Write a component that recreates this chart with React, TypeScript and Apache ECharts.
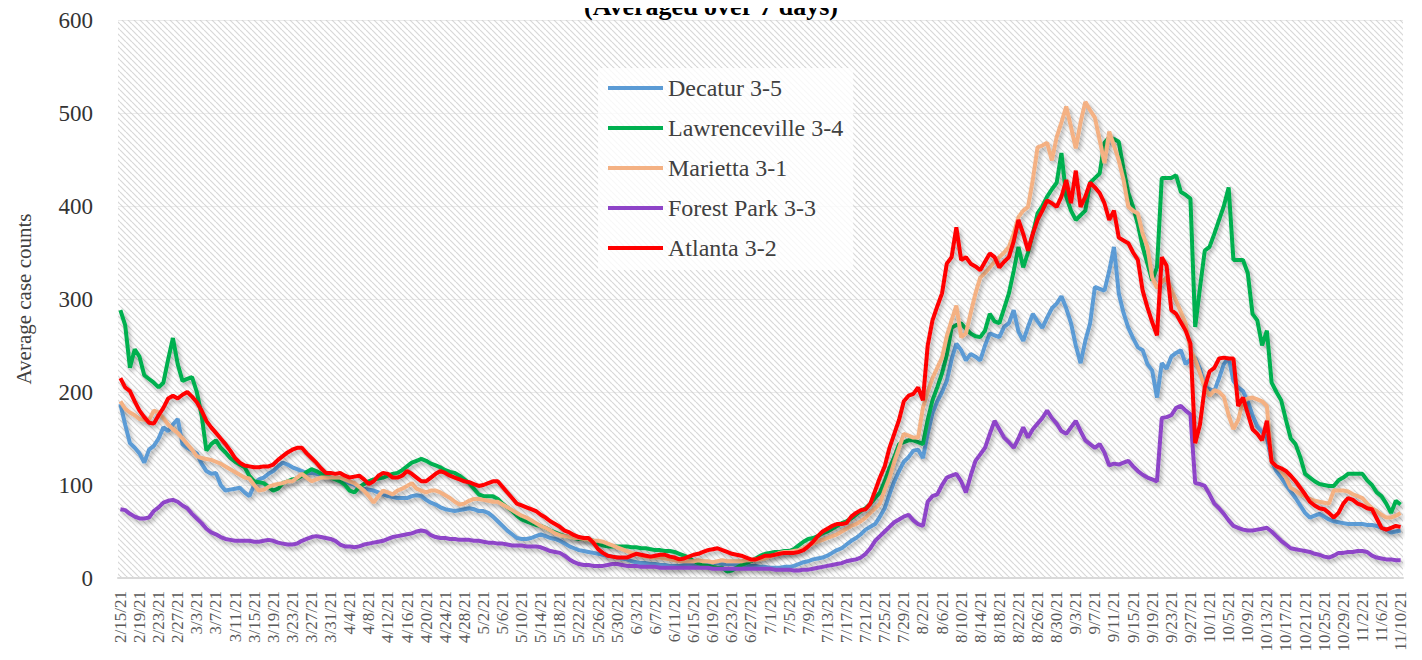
import React, { useEffect, useRef } from "react";
import * as echarts from "echarts";

// Categories: daily dates 2/15/21 .. 11/10/21
const dates: string[] = [];
for (let i = 0; i < 269; i++) {
  const d = new Date(2021, 1, 15 + i);
  dates.push(`${d.getMonth() + 1}/${d.getDate()}/21`);
}

const seriesNames = ["Decatur 3-5", "Lawrenceville 3-4", "Marietta 3-1", "Forest Park 3-3", "Atlanta 3-2"];
const seriesColors = ["#5B9BD5", "#00B050", "#F4B183", "#8E44C8", "#FF0000"];

const decatur = [
  187, 165, 145, 140, 134, 124, 138, 142, 150, 162,
  158, 165, 171, 144, 140, 137, 134, 123, 115, 112,
  113, 100, 94, 95, 96, 97, 92, 88, 100, 106,
  108, 112, 115, 120, 124, 122, 119, 117, 115, 113,
  113, 112, 111, 109, 108, 107, 105, 104, 102, 100,
  97, 96, 95, 94, 92, 90, 88, 87, 86, 86,
  86, 88, 89, 88, 84, 81, 79, 76, 74, 73,
  72, 73, 74, 75, 74, 72, 72, 70, 66, 61,
  56, 51, 47, 43, 42, 42, 43, 45, 47, 45,
  43, 42, 40, 37, 34, 32, 30, 29, 28, 27,
  26, 25, 24, 23, 22, 21, 20, 18, 17, 16,
  16, 15, 15, 14, 14, 13, 13, 13, 14, 15,
  15, 15, 16, 16, 16, 16, 15, 15, 15, 14,
  14, 14, 13, 13, 12, 12, 11, 11, 11, 12,
  12, 13, 15, 17, 18, 20, 21, 22, 24, 27,
  30, 32, 36, 40, 43, 47, 52, 55, 58, 66,
  75, 90, 104, 115, 125, 130, 137, 138, 129, 155,
  177, 190, 200, 212, 235, 252, 245, 234, 241, 238,
  234, 250, 263, 261, 259, 270, 274, 288, 265, 255,
  270, 284, 276, 269, 280, 290, 295, 303, 290, 274,
  250, 231, 255, 274, 313, 311, 309, 330, 356, 306,
  285, 269, 258, 248, 245, 230, 223, 194, 231, 225,
  238, 242, 245, 230, 235, 237, 225, 205, 203, 201,
  215, 230, 237, 212, 205, 201, 190, 175, 163, 157,
  151, 126, 115, 108, 100, 93, 86, 78, 70, 65,
  67, 69, 66, 63, 61, 60, 59, 58, 58, 58,
  58, 57, 57, 56, 54, 52, 49, 50, 51,
];

const lawrenceville = [
  288, 272, 226, 246, 238, 218, 214, 210, 205, 210,
  235, 258, 230, 212, 214, 216, 200, 175, 137, 144,
  148, 140, 135, 129, 125, 122, 119, 110, 104, 103,
  102, 98, 94, 96, 102, 104, 106, 107, 110, 114,
  117, 115, 112, 110, 108, 106, 104, 100, 94, 92,
  98, 101, 104, 106, 107, 108, 110, 112, 113, 116,
  120, 124, 126, 128, 126, 123, 121, 119, 116, 114,
  113, 110, 106, 102, 96, 90, 88, 88, 88, 85,
  80, 76, 72, 67, 63, 61, 59, 57, 56, 54,
  51, 49, 47, 45, 44, 43, 42, 42, 41, 40,
  37, 35, 34, 34, 34, 34, 34, 33, 33, 32,
  32, 31, 30, 30, 29, 29, 28, 26, 24, 22,
  18, 16, 14, 13, 12, 11, 11, 7, 8, 11,
  14, 16, 18, 21, 24, 26, 27, 28, 28, 29,
  29, 31, 35, 39, 42, 43, 45, 48, 50, 53,
  56, 59, 61, 64, 68, 72, 75, 80, 86, 92,
  104, 118, 130, 144, 146, 148, 148, 146, 144, 170,
  191, 205, 220, 240, 269, 272, 274, 268, 263, 260,
  259, 266, 284, 276, 274, 290, 306, 330, 356, 334,
  350, 370, 392, 400, 410, 418, 425, 457, 410, 395,
  385, 390, 395, 425, 430, 435, 468, 474, 472, 469,
  440, 414, 399, 380, 356, 338, 320, 334, 430, 430,
  430, 433, 415, 412, 408, 270, 312, 352, 356, 370,
  385, 400, 420, 342, 342, 342, 328, 284, 277, 250,
  266, 210, 200, 191, 170, 150, 144, 130, 112, 108,
  104, 101, 100, 99, 99, 105, 108, 112, 112, 112,
  112, 105, 100, 92, 88, 80, 70, 83, 79,
];

const marietta = [
  190, 182, 178, 175, 171, 170, 170, 180, 178, 172,
  165, 160, 156, 150, 144, 138, 131, 129, 128, 127,
  125, 123, 120, 117, 114, 111, 108, 107, 100, 94,
  95, 98, 100, 101, 102, 104, 104, 108, 112, 108,
  104, 106, 108, 108, 108, 108, 108, 106, 104, 102,
  98, 94, 88, 81, 88, 94, 92, 90, 94, 96,
  99, 102, 96, 94, 92, 94, 94, 92, 89, 86,
  82, 79, 80, 83, 85, 85, 84, 83, 82, 82,
  79, 76, 73, 70, 67, 65, 62, 59, 56, 54,
  51, 48, 46, 45, 44, 43, 43, 42, 41, 40,
  40, 39, 37, 35, 33, 31, 29, 27, 26, 24,
  23, 22, 22, 22, 21, 20, 19, 18, 18, 18,
  18, 19, 18, 18, 17, 18, 19, 18, 18, 18,
  18, 19, 19, 20, 20, 21, 23, 25, 27, 28,
  28, 29, 30, 32, 35, 37, 39, 41, 43, 45,
  47, 50, 53, 56, 58, 61, 65, 70, 75, 80,
  95, 108, 125, 140, 155, 153, 151, 151, 183, 200,
  215, 226, 237, 260, 277, 293, 259, 263, 285, 306,
  323, 328, 334, 340, 345, 350, 356, 370, 388, 395,
  399, 428, 463, 465, 468, 449, 474, 490, 507, 485,
  462, 490, 512, 503, 495, 471, 446, 480, 465, 449,
  428, 399, 395, 392, 370, 356, 323, 312, 318, 323,
  310, 298, 286, 274, 245, 235, 220, 205, 196, 202,
  200, 195, 175, 160, 170, 190, 193, 194, 192, 190,
  185, 125, 120, 115, 108, 97, 94, 90, 88, 85,
  83, 82, 81, 80, 94, 94, 94, 93, 90, 88,
  86, 80, 75, 72, 68, 65, 65, 67, 70,
];

const forestPark = [
  74, 73, 69, 66, 64, 64, 65, 72, 76, 81,
  83, 84, 82, 78, 75, 69, 64, 59, 53, 49,
  47, 44, 42, 41, 40, 40, 40, 40, 39, 39,
  40, 41, 40, 38, 37, 36, 36, 37, 40, 42,
  44, 45, 44, 43, 42, 40, 36, 34, 34, 33,
  34, 36, 37, 38, 39, 40, 42, 44, 45, 46,
  47, 48, 50, 51, 50, 46, 44, 43, 43, 42,
  42, 41, 41, 41, 40, 40, 39, 38, 38, 37,
  37, 36, 35, 35, 35, 34, 34, 34, 33, 31,
  29, 28, 27, 24, 20, 17, 15, 14, 14, 13,
  13, 13, 14, 15, 15, 14, 13, 13, 13, 12,
  12, 12, 12, 11, 11, 11, 11, 11, 11, 11,
  11, 11, 11, 11, 10, 10, 10, 10, 10, 10,
  10, 10, 10, 10, 10, 10, 10, 9, 9, 9,
  9, 8, 8, 9, 9, 10, 11, 12, 13, 14,
  15, 16, 18, 19, 20, 22, 26, 32, 40, 45,
  50, 55, 60, 63, 66, 68, 62, 58, 56, 82,
  88, 90, 100, 108, 110, 112, 104, 92, 110, 126,
  133, 140, 155, 169, 160, 151, 146, 140, 150, 162,
  151, 160, 166, 172, 180, 172, 166, 158, 155, 162,
  169, 158, 148, 144, 140, 144, 135, 121, 123, 122,
  124, 126, 120, 115, 111, 108, 106, 104, 172, 173,
  175, 183, 185, 180, 176, 102, 101, 99, 90, 80,
  75, 69, 62, 56, 54, 52, 51, 51, 52, 53,
  54, 50, 45, 40, 36, 32, 31, 30, 29, 28,
  26, 25, 23, 22, 24, 27, 27, 28, 28, 29,
  29, 28, 24, 22, 21, 20, 20, 19, 19,
];

const atlanta = [
  215, 205, 201, 190, 180, 173, 167, 166, 175, 183,
  193, 196, 193, 197, 200, 195, 189, 180, 169, 162,
  156, 150, 144, 137, 129, 124, 121, 120, 119, 119,
  120, 120, 122, 127, 131, 135, 138, 140, 140, 134,
  129, 124, 118, 113, 113, 112, 113, 110, 108, 109,
  110, 106, 101, 104, 110, 113, 112, 108, 108, 110,
  115, 112, 108, 104, 104, 108, 112, 115, 113, 110,
  108, 106, 104, 103, 101, 99, 100, 102, 104, 104,
  98, 92, 86, 80, 78, 76, 74, 72, 68, 65,
  61, 58, 55, 51, 49, 46, 44, 43, 43, 38,
  31, 27, 24, 23, 22, 22, 22, 24, 26, 25,
  24, 23, 24, 25, 25, 23, 22, 20, 21, 23,
  25, 26, 28, 30, 31, 32, 30, 28, 26, 25,
  24, 22, 20, 20, 22, 24, 24, 25, 26, 27,
  27, 27, 28, 30, 34, 39, 45, 50, 53, 56,
  58, 58, 59, 66, 70, 73, 74, 80, 94, 108,
  120, 140, 155, 170, 190, 196, 198, 205, 191, 250,
  277, 292, 306, 338, 345, 377, 342, 345, 338, 335,
  331, 340, 349, 345, 334, 340, 345, 362, 385, 370,
  352, 370, 385, 395, 406, 403, 399, 410, 428, 403,
  438, 399, 410, 425, 420, 414, 403, 385, 395, 366,
  363, 360, 350, 342, 309, 291, 275, 261, 345, 336,
  288, 284, 275, 266, 252, 145, 165, 205, 222, 226,
  236, 237, 236, 236, 185, 194, 177, 160, 155, 148,
  169, 125, 120, 118, 115, 110, 104, 97, 90, 82,
  78, 75, 74, 70, 65, 70, 80, 86, 84, 80,
  78, 75, 74, 64, 54, 52, 54, 56, 55,
];

const seriesData = [decatur, lawrenceville, marietta, forestPark, atlanta];

const yTicks = { min: 0, max: 600, interval: 100 };

function makeHatch(): HTMLCanvasElement {
  const c = document.createElement("canvas");
  c.width = 6;
  c.height = 6;
  const g = c.getContext("2d")!;
  g.fillStyle = "#ffffff";
  g.fillRect(0, 0, 6, 6);
  g.strokeStyle = "#d8d8d8";
  g.lineWidth = 1.2;
  for (const o of [-6, 0, 6]) {
    g.beginPath();
    g.moveTo(o, 0);
    g.lineTo(o + 6, 6);
    g.stroke();
  }
  return c;
}

const FONT = "'Liberation Serif', 'DejaVu Serif', serif";

export default function App() {
  const ref = useRef<HTMLDivElement>(null);
  useEffect(() => {
    if (!ref.current) return;
    const chart = echarts.init(ref.current, null, { renderer: "svg" });
    const hatch = makeHatch();
    chart.setOption({
      animation: false,
      backgroundColor: "#ffffff",
      textStyle: { fontFamily: FONT },
      title: {
        text: "(Averaged over 7 days)",
        left: "center",
        top: -12,
        textStyle: { fontFamily: FONT, fontSize: 26, fontWeight: "bold", color: "#000000" },
      },
      legend: {
        orient: "vertical",
        left: 598,
        top: 68,
        data: seriesNames,
        icon: "rect",
        itemWidth: 55,
        itemHeight: 4,
        itemGap: 16,
        padding: [8, 10, 10, 10],
        backgroundColor: "rgba(255,255,255,0.8)",
        textStyle: { fontFamily: FONT, fontSize: 24, color: "#404040" },
      },
      grid: {
        left: 118,
        right: 19,
        top: 20,
        bottom: 82,
        show: true,
        borderWidth: 0,
        backgroundColor: { image: hatch.toDataURL(), repeat: "repeat", imageWidth: 6, imageHeight: 6 },
      },
      xAxis: {
        type: "category",
        data: dates,
        boundaryGap: true,
        axisLine: { lineStyle: { color: "#d9d9d9", width: 2 } },
        axisTick: { show: false },
        axisLabel: {
          interval: 3,
          rotate: 90,
          margin: 13,
          fontFamily: FONT,
          fontSize: 17,
          color: "#595959",
        },
      },
      yAxis: {
        type: "value",
        min: yTicks.min,
        max: yTicks.max,
        interval: yTicks.interval,
        name: "Average case counts",
        nameLocation: "middle",
        nameGap: 84,
        nameTextStyle: { fontFamily: FONT, fontSize: 21, color: "#404040" },
        axisLine: { show: false },
        axisTick: { show: false },
        axisLabel: { fontFamily: FONT, fontSize: 23, color: "#333333", margin: 25 },
        splitLine: { show: true, lineStyle: { color: "rgba(200,200,200,0.35)", width: 1 } },
      },
      series: seriesNames.map((name, i) => ({
        name,
        type: "line",
        data: seriesData[i],
        symbol: "none",
        color: seriesColors[i],
        lineStyle: {
          width: 4,
          color: seriesColors[i],
          shadowColor: "rgba(0,0,0,0.3)",
          shadowBlur: 4,
          shadowOffsetX: 2,
          shadowOffsetY: 3,
        },
      })),
    });
    return () => chart.dispose();
  }, []);
  return <div ref={ref} style={{ width: 1422, height: 660, margin: -8 }} />;
}
